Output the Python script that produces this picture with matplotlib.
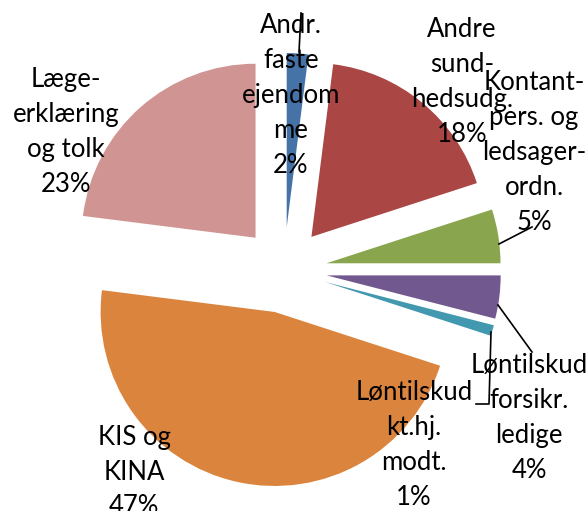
import matplotlib
matplotlib.use("Agg")
import matplotlib.pyplot as plt

# share of spending per item, in percent (clockwise from the top)
labels = ["Andr.\nfaste\nejendom\nme", "Andre\nsund-\nhedsudg.", "Kontant-\npers. og\nledsager-\nordn.",
          "Løntilskud\nforsikr.\nledige", "Løntilskud\nkt.hj.\nmodt.", "KIS og\nKINA", "Læge-\nerklæring\nog tolk"]
shares = [2, 18, 5, 4, 1, 47, 23]
colors = ["#4572A7", "#AA4643", "#89A54E", "#71588F", "#4198AF", "#DB843D", "#D09593"]

# label centres in pixel coords (y measured from top)
label_pos = [(291, 95), (462, 82), (534, 152), (529, 418), (414, 445), (134, 472), (66, 132)]

W, H = 587, 511
fig = plt.figure(figsize=(W / 100, H / 100), dpi=100)
ax = fig.add_axes([0, 0, 1, 1])

ax.pie(shares, colors=colors, startangle=90, counterclock=False,
       radius=174, center=(284, H - 270), explode=[43] * len(shares),
       wedgeprops=dict(linewidth=0), frame=True)
ax.set_xlim(0, W)
ax.set_ylim(0, H)
ax.set_aspect("equal")
ax.axis("off")

for lab, val, (x, y) in zip(labels, shares, label_pos):
    ax.text(x, H - y, f"{lab}\n{val}%", ha="center", va="center", fontsize=18.5,
            family="Lato", linespacing=1.5, clip_on=False)

# leader lines
lines = [
    [(301, 13), (299, 52)],
    [(499, 244), (532, 227)],
    [(498, 305), (532, 352)],
    [(491, 332), (489, 404), (476, 404)],
]
for pts in lines:
    xs = [p[0] for p in pts]
    ys = [H - p[1] for p in pts]
    ax.plot(xs, ys, color="black", lw=1.2)

fig.savefig("out.png", dpi=100)
